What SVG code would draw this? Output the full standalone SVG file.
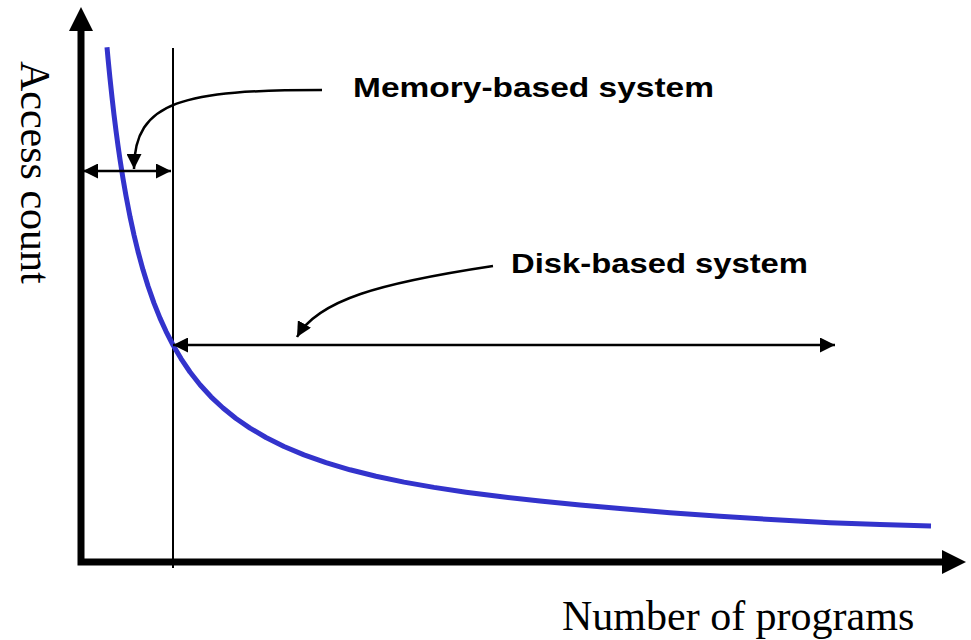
<svg xmlns="http://www.w3.org/2000/svg" width="971" height="640" viewBox="0 0 971 640">
<style>
.axis{fill:none;stroke:#000;stroke-width:7;stroke-linejoin:miter}
.thin{fill:none;stroke:#000;stroke-width:2}
.arr{fill:none;stroke:#000;stroke-width:2.5}
.curve{fill:none;stroke:#3333cc;stroke-width:5;stroke-linejoin:round;stroke-linecap:butt}
.lbl{font-family:"Liberation Sans",Arial,sans-serif;font-weight:bold;font-size:28px;fill:#000}
.ax{font-family:"Liberation Serif","Times New Roman",serif;font-size:42px;fill:#000}
</style>
<defs>
<marker id="ah" markerWidth="15" markerHeight="15" viewBox="0 0 15 15" refX="15" refY="7.5" orient="auto-start-reverse" markerUnits="userSpaceOnUse">
<path d="M0,0 L15,7.5 L0,15 Z" fill="#000"/>
</marker>
</defs>
<g id="axes">
<path class="axis" d="M81,30 L81,562 L943,562"/>
<path d="M69,31 L81,7 L93,31 Z" fill="#000"/>
<path d="M942,550 L966,562 L942,574 Z" fill="#000"/>
</g>
<g id="divider">
<line class="thin" x1="173" y1="48" x2="173" y2="568"/>
</g>
<g id="curve">
<polyline class="curve" points="107,47.3 108,58.2 109,68.6 110,78.6 112,97.3 114,114.7 116,130.7 118,145.6 120,159.5 123,178.6 126,195.9 130,216.6 134,235 138,251.5 143,269.8 148,286 154,303.1 160,318.1 166,331.3 173,345 181,358.6 190,372 200,384.7 211,396.8 223,408 236,418.5 250,428.1 266,437.5 284,446.5 304,454.9 326,462.6 350,469.8 376,476.2 404,482.1 434,487.4 466,492.2 500,496.6 540,501 580,505 620,508.5 670,512.7 720,516.3 780,520 830,522.7 880,524.6 931,526"/>
</g>
<g id="connectors">
<line class="arr" x1="83" y1="171" x2="171" y2="171" marker-start="url(#ah)" marker-end="url(#ah)"/>
<path class="arr" d="M322,90 C185,90 134,100 134,169" marker-end="url(#ah)"/>
<line class="arr" x1="173" y1="345" x2="835" y2="345" marker-start="url(#ah)" marker-end="url(#ah)"/>
<path class="arr" d="M493,266 C380,283 318,300 297,337" marker-end="url(#ah)"/>
</g>
<g id="label-memory">
<text class="lbl" x="353" y="97" textLength="361" lengthAdjust="spacingAndGlyphs">Memory-based system</text>
</g>
<g id="label-disk">
<text class="lbl" x="511" y="273" textLength="297" lengthAdjust="spacingAndGlyphs">Disk-based system</text>
</g>
<g id="label-x">
<text class="ax" x="562" y="630">Number of programs</text>
</g>
<g id="label-y">
<text class="ax" transform="translate(21,61) rotate(90)">Access count</text>
</g>
</svg>
